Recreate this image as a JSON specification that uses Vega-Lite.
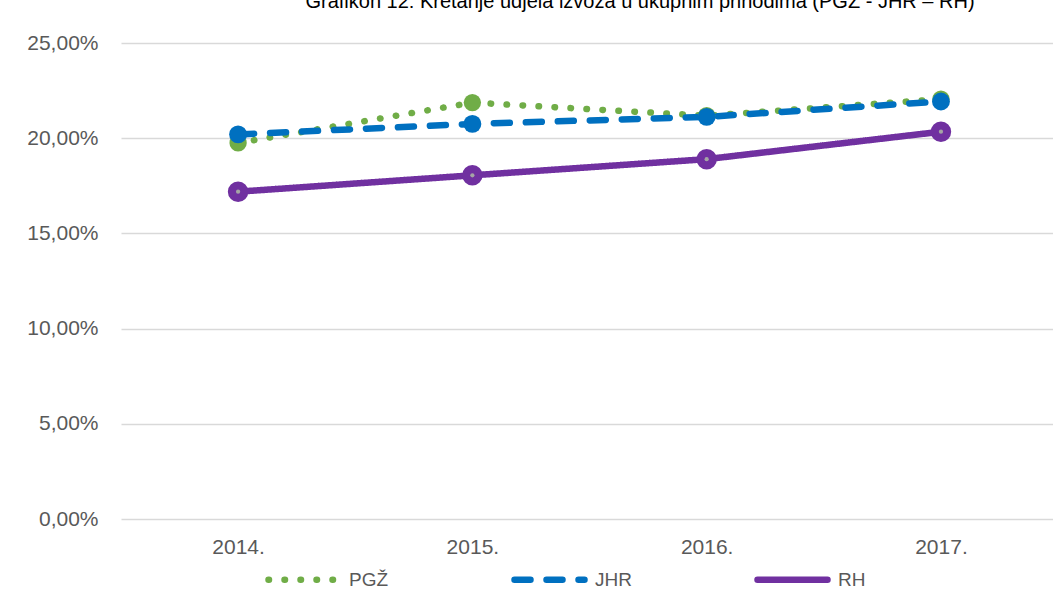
{
  "$schema": "https://vega.github.io/schema/vega-lite/v6.json",
  "width": 932,
  "height": 476,
  "autosize": {"type": "none"},
  "padding": {"left": 121, "top": 43, "right": 0, "bottom": 91},
  "background": "white",
  "title": {
    "text": "Grafikon 12: Kretanje udjela izvoza u ukupnim prihodima (PGŽ - JHR – RH)",
    "font": "Liberation Sans",
    "fontSize": 20,
    "fontWeight": "normal",
    "color": "#000000",
    "anchor": "middle",
    "frame": "group",
    "dx": 53,
    "offset": 20
  },
  "data": {
    "values": [
      {"year": "2014.", "series": "PGŽ", "value": 0.1975},
      {"year": "2015.", "series": "PGŽ", "value": 0.2187},
      {"year": "2016.", "series": "PGŽ", "value": 0.2118},
      {"year": "2017.", "series": "PGŽ", "value": 0.2205},
      {"year": "2014.", "series": "JHR", "value": 0.2020},
      {"year": "2015.", "series": "JHR", "value": 0.2075},
      {"year": "2016.", "series": "JHR", "value": 0.2112},
      {"year": "2017.", "series": "JHR", "value": 0.2193},
      {"year": "2014.", "series": "RH", "value": 0.1719},
      {"year": "2015.", "series": "RH", "value": 0.1805},
      {"year": "2016.", "series": "RH", "value": 0.1890},
      {"year": "2017.", "series": "RH", "value": 0.2034}
    ]
  },
  "encoding": {
    "x": {
      "field": "year",
      "type": "ordinal",
      "scale": {"type": "point", "padding": 0.489, "align": 0.511},
      "axis": {
        "title": null,
        "domain": false,
        "ticks": false,
        "labelAngle": 0,
        "labelFont": "Liberation Sans",
        "labelFontSize": 21,
        "labelColor": "#595959",
        "labelPadding": 17
      }
    },
    "y": {
      "field": "value",
      "type": "quantitative",
      "scale": {"domain": [0, 0.25], "nice": false, "zero": true},
      "axis": {
        "title": null,
        "values": [0, 0.05, 0.1, 0.15, 0.2, 0.25],
        "format": ".2%",
        "domain": false,
        "ticks": false,
        "grid": true,
        "gridColor": "#d9d9d9",
        "gridWidth": 1.5,
        "labelFont": "Liberation Sans",
        "labelFontSize": 21,
        "labelColor": "#595959",
        "labelPadding": 23
      }
    }
  },
  "layer": [
    {
      "mark": {"type": "line", "strokeWidth": 6.5, "strokeCap": "round", "strokeJoin": "round"},
      "encoding": {
        "color": {
          "field": "series",
          "type": "nominal",
          "scale": {"domain": ["PGŽ", "JHR", "RH"], "range": ["#70AD47", "#0070C0", "#7030A0"]},
          "legend": {
            "title": null,
            "orient": "none",
            "legendX": 144,
            "legendY": 498,
            "direction": "horizontal",
            "columns": 3,
            "columnPadding": 112,
            "symbolType": "stroke",
            "symbolSize": 4900,
            "symbolStrokeWidth": 6.5,
            "labelOffset": 7,
            "labelFont": "Liberation Sans",
            "labelFontSize": 19,
            "labelColor": "#595959",
            "encode": {"symbols": {"update": {"strokeCap": {"value": "round"}}}}
          }
        },
        "strokeDash": {
          "field": "series",
          "type": "nominal",
          "scale": {"domain": ["PGŽ", "JHR", "RH"], "range": [[0.5, 15.5], [16, 16], [1, 0]]},
          "legend": {
            "title": null,
            "orient": "none",
            "legendX": 144,
            "legendY": 498,
            "direction": "horizontal",
            "columns": 3,
            "columnPadding": 112,
            "symbolType": "stroke",
            "symbolSize": 4900,
            "symbolStrokeWidth": 6.5,
            "labelOffset": 7,
            "labelFont": "Liberation Sans",
            "labelFontSize": 19,
            "labelColor": "#595959",
            "encode": {"symbols": {"update": {"strokeCap": {"value": "round"}}}}
          }
        }
      }
    },
    {
      "transform": [{"filter": "datum.series === 'PGŽ'"}],
      "mark": {"type": "circle", "size": 300, "opacity": 1, "color": "#70AD47"},
      "encoding": {}
    },
    {
      "transform": [{"filter": "datum.series === 'JHR'"}],
      "mark": {"type": "circle", "size": 320, "opacity": 1, "color": "#0070C0"},
      "encoding": {}
    },
    {
      "transform": [{"filter": "datum.series === 'RH'"}],
      "mark": {"type": "circle", "size": 420, "opacity": 1, "color": "#7030A0"},
      "encoding": {}
    },
    {
      "transform": [{"filter": "datum.series === 'RH'"}],
      "mark": {"type": "circle", "size": 18, "opacity": 1, "color": "#A5A5A5"},
      "encoding": {}
    }
  ],
  "config": {
    "view": {"stroke": null},
    "locale": {
      "number": {"decimal": ",", "thousands": ".", "grouping": [3], "currency": ["", " €"]}
    }
  }
}
